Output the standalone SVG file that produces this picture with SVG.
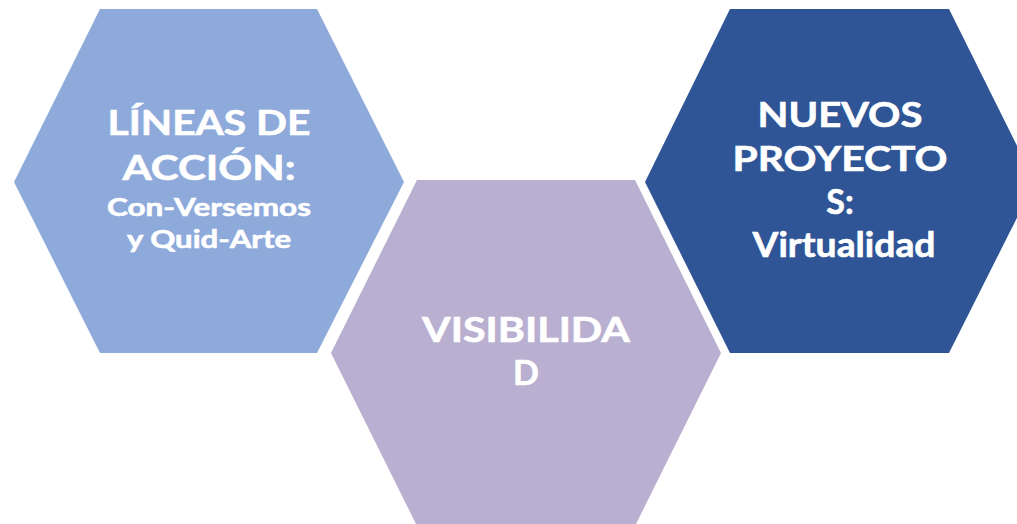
<svg xmlns="http://www.w3.org/2000/svg" width="1017" height="524" viewBox="0 0 1017 524">
<style>
.t{font-family:Lato,"Open Sans","Liberation Sans",sans-serif;font-weight:700;fill:#FFFFFF;text-anchor:middle;stroke:#FFFFFF;stroke-width:0.6px}
.big{font-size:34px}
.sm{font-size:25px}
</style>
<rect width="1017" height="524" fill="#FFFFFF"/>
<g id="node-lineas">
<polygon points="100,9 317,9 404,182 317,353 100,353 14,182" fill="#8EAADB"/>
<text class="t big" x="209" y="135" textLength="203" lengthAdjust="spacingAndGlyphs">LÍNEAS DE</text>
<text class="t big" x="209" y="180" textLength="173" lengthAdjust="spacingAndGlyphs">ACCIÓN:</text>
<text class="t sm" x="209" y="216" textLength="204" lengthAdjust="spacingAndGlyphs">Con-Versemos</text>
<text class="t sm" x="209" y="248" textLength="164" lengthAdjust="spacingAndGlyphs">y Quid-Arte</text>
</g>
<g id="node-visibilidad">
<polygon points="417,180 635,180 721,353 635,526 417,526 331,353" fill="#B9AFD0"/>
<text class="t big" x="526" y="342" textLength="208" lengthAdjust="spacingAndGlyphs">VISIBILIDA</text>
<text class="t big" x="526" y="385">D</text>
</g>
<g id="node-nuevos">
<polygon points="730,9 949,9 1035,182 949,353 730,353 645,182" fill="#2F5597"/>
<text class="t big" x="840" y="127" textLength="165" lengthAdjust="spacingAndGlyphs">NUEVOS</text>
<text class="t big" x="840" y="171" textLength="215" lengthAdjust="spacingAndGlyphs">PROYECTO</text>
<text class="t big" x="840" y="214">S:</text>
<text class="t big" x="844" y="257" textLength="183" lengthAdjust="spacingAndGlyphs">Virtualidad</text>
</g>
<g id="connectors"></g>
</svg>
